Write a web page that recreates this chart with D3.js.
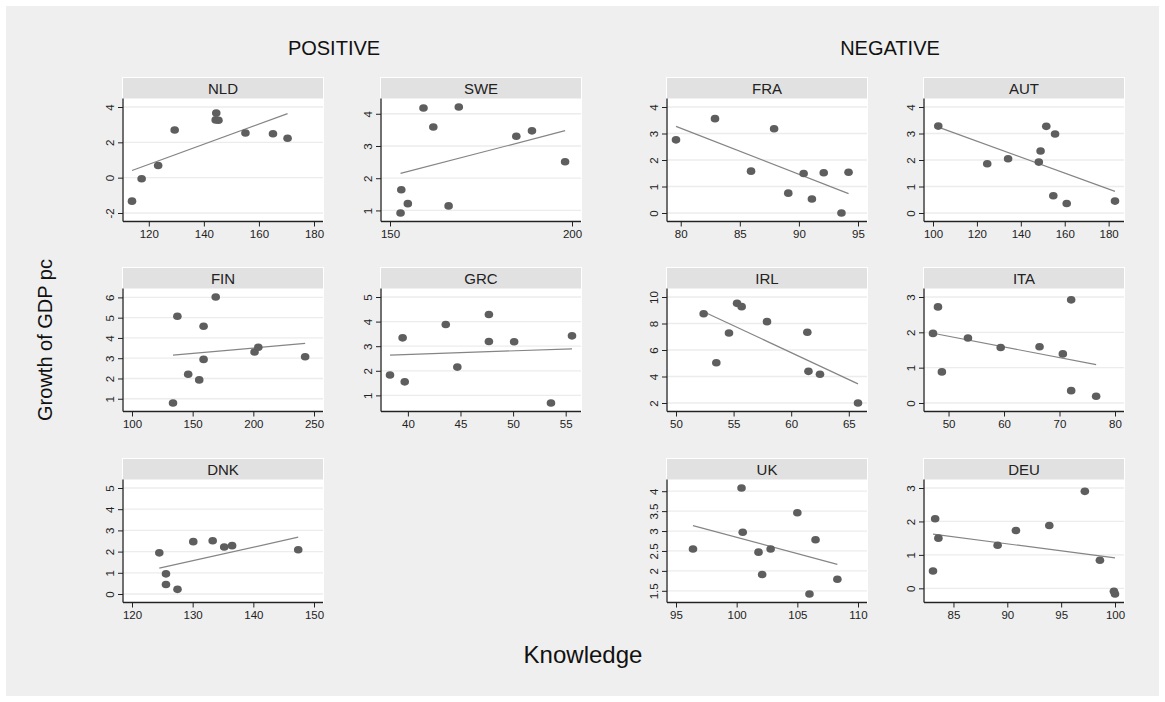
<!DOCTYPE html>
<html>
<head>
<meta charset="utf-8">
<script src="https://cdn.jsdelivr.net/npm/d3@7"></script>
<style>
  body { margin: 0; background: #fff; }
  text { font-family: "Liberation Sans", Arial, sans-serif; }
</style>
</head>
<body>
<div id="chart"></div>
<script>
// data: knowledge (x) and growth of GDP pc (y) per country
var NLD_x = [113.9, 117.4, 123.4, 129.4, 144.5, 144.3, 145.3, 155.1, 165.1, 170.4];
var NLD_y = [-1.33, -0.06, 0.69, 2.70, 3.66, 3.27, 3.25, 2.53, 2.49, 2.23];
var NLD_xt = [120, 140, 160, 180], NLD_yt = [-2, 0, 2, 4];

var SWE_x = [152.9, 153.1, 154.9, 159.2, 161.9, 166.1, 168.9, 184.7, 189.0, 198.1];
var SWE_y = [0.92, 1.64, 1.21, 4.18, 3.59, 1.14, 4.21, 3.30, 3.47, 2.51];
var SWE_xt = [150, 200], SWE_yt = [1, 2, 3, 4];

var FRA_x = [79.6, 82.9, 85.95, 87.9, 89.1, 90.4, 91.1, 92.1, 93.6, 94.2];
var FRA_y = [2.76, 3.56, 1.58, 3.18, 0.75, 1.49, 0.53, 1.52, 0.0, 1.54];
var FRA_xt = [80, 85, 90, 95], FRA_yt = [0, 1, 2, 3, 4];

var AUT_x = [102.4, 124.7, 134.2, 148.2, 149.0, 151.6, 155.6, 154.8, 160.9, 182.9];
var AUT_y = [3.28, 1.86, 2.05, 1.92, 2.34, 3.27, 2.98, 0.65, 0.36, 0.45];
var AUT_xt = [100, 120, 140, 160, 180], AUT_yt = [0, 1, 2, 3, 4];

var FIN_x = [133.8, 137.4, 146.3, 155.4, 159.0, 159.0, 169.0, 201.0, 204.1, 242.7];
var FIN_y = [0.79, 5.07, 2.21, 1.93, 4.58, 2.94, 6.02, 3.31, 3.54, 3.07];
var FIN_xt = [100, 150, 200, 250], FIN_yt = [1, 2, 3, 4, 5, 6];

var GRC_x = [38.3, 39.5, 39.7, 43.6, 44.7, 47.7, 47.7, 50.1, 53.6, 55.6];
var GRC_y = [1.83, 3.34, 1.55, 3.88, 2.15, 4.29, 3.19, 3.18, 0.69, 3.42];
var GRC_xt = [40, 45, 50, 55], GRC_yt = [1, 2, 3, 4, 5];

var IRL_x = [52.4, 53.5, 54.6, 55.3, 55.7, 57.9, 61.4, 61.5, 62.5, 65.8];
var IRL_y = [8.74, 5.04, 7.28, 9.52, 9.27, 8.14, 7.34, 4.39, 4.17, 2.0];
var IRL_xt = [50, 55, 60, 65], IRL_yt = [2, 4, 6, 8, 10];

var ITA_x = [47.2, 48.1, 48.8, 53.5, 59.4, 66.4, 70.6, 72.1, 72.1, 76.6];
var ITA_y = [1.97, 2.72, 0.88, 1.84, 1.57, 1.59, 1.39, 2.92, 0.35, 0.19];
var ITA_xt = [50, 60, 70, 80], ITA_yt = [0, 1, 2, 3];

var DNK_x = [124.5, 125.6, 125.6, 127.5, 130.1, 133.3, 135.2, 136.5, 147.4];
var DNK_y = [1.94, 0.95, 0.45, 0.22, 2.47, 2.51, 2.22, 2.28, 2.09];
var DNK_xt = [120, 130, 140, 150], DNK_yt = [0, 1, 2, 3, 4, 5];

var UK_x = [96.4, 100.4, 100.5, 101.8, 102.1, 102.8, 105.0, 106.5, 106.0, 108.3];
var UK_y = [2.55, 4.08, 2.97, 2.47, 1.91, 2.55, 3.46, 2.78, 1.42, 1.79];
var UK_xt = [95, 100, 105, 110], UK_yt = [1.5, 2, 2.5, 3, 3.5, 4];

var DEU_x = [83.1, 83.3, 83.6, 89.1, 90.8, 93.9, 97.2, 98.6, 99.9, 100.0];
var DEU_y = [0.52, 2.08, 1.50, 1.29, 1.73, 1.88, 2.90, 0.84, -0.09, -0.17];
var DEU_xt = [85, 90, 95, 100], DEU_yt = [0, 1, 2, 3];

var groupTitles = ["POSITIVE", "NEGATIVE"];

// layout
var W = 1165, H = 702;
var colLeft = [123, 381, 667, 924];
var rowTop = [78, 268, 459];
var plotW = 200, headH = 20.5, plotH = 123;
var padX = 9, padY = 8.5;

var panels = [
  {name: "NLD", x: NLD_x, y: NLD_y, xt: NLD_xt, yt: NLD_yt, r: 0, c: 0},
  {name: "SWE", x: SWE_x, y: SWE_y, xt: SWE_xt, yt: SWE_yt, r: 0, c: 1},
  {name: "FRA", x: FRA_x, y: FRA_y, xt: FRA_xt, yt: FRA_yt, r: 0, c: 2},
  {name: "AUT", x: AUT_x, y: AUT_y, xt: AUT_xt, yt: AUT_yt, r: 0, c: 3},
  {name: "FIN", x: FIN_x, y: FIN_y, xt: FIN_xt, yt: FIN_yt, r: 1, c: 0},
  {name: "GRC", x: GRC_x, y: GRC_y, xt: GRC_xt, yt: GRC_yt, r: 1, c: 1},
  {name: "IRL", x: IRL_x, y: IRL_y, xt: IRL_xt, yt: IRL_yt, r: 1, c: 2},
  {name: "ITA", x: ITA_x, y: ITA_y, xt: ITA_xt, yt: ITA_yt, r: 1, c: 3},
  {name: "DNK", x: DNK_x, y: DNK_y, xt: DNK_xt, yt: DNK_yt, r: 2, c: 0},
  {name: "UK",  x: UK_x,  y: UK_y,  xt: UK_xt,  yt: UK_yt,  r: 2, c: 2},
  {name: "DEU", x: DEU_x, y: DEU_y, xt: DEU_xt, yt: DEU_yt, r: 2, c: 3}
];

var svg = d3.select("#chart")
  .append("svg")
    .attr("width", W)
    .attr("height", H);

// outer graph region
svg.append("rect")
  .attr("x", 6).attr("y", 6)
  .attr("width", W - 12).attr("height", H - 12)
  .attr("fill", "#efefef");

// group titles
svg.append("text").attr("x", 334).attr("y", 55)
  .attr("text-anchor", "middle").attr("font-size", 20).attr("fill", "#111")
  .text(groupTitles[0]);
svg.append("text").attr("x", 890).attr("y", 55)
  .attr("text-anchor", "middle").attr("font-size", 20).attr("fill", "#111")
  .text(groupTitles[1]);

// axis titles
svg.append("text")
  .attr("transform", "translate(52,340) rotate(-90)")
  .attr("text-anchor", "middle").attr("font-size", 20).attr("fill", "#111")
  .text("Growth of GDP pc");
svg.append("text").attr("x", 583).attr("y", 663)
  .attr("text-anchor", "middle").attr("font-size", 24).attr("fill", "#111")
  .text("Knowledge");

// plain hyphen for negatives, like the original
var fmt = d => String(d);

panels.forEach(function(p) {
  var left = colLeft[p.c], top = rowTop[p.r];
  var pTop = top + headH, pBot = pTop + plotH, right = left + plotW;

  var g = svg.append("g");

  // strip + plot background
  g.append("rect").attr("x", left - 1).attr("y", top - 1)
    .attr("width", plotW + 2).attr("height", headH + plotH + 2)
    .attr("fill", "#fff");
  g.append("rect").attr("x", left).attr("y", top)
    .attr("width", plotW).attr("height", headH)
    .attr("fill", "#e1e1e1");
  g.append("text").attr("x", left + plotW / 2).attr("y", top + headH / 2 + 5.5)
    .attr("text-anchor", "middle").attr("font-size", 15).attr("fill", "#222")
    .text(p.name);

  var xExt = d3.extent(p.x.concat(p.xt));
  var yExt = d3.extent(p.y.concat(p.yt));

  var x = d3.scaleLinear().domain(xExt).range([left + padX, right - padX]);
  var y = d3.scaleLinear().domain(yExt).range([pBot - padY, pTop + padY]);

  // grid lines
  g.selectAll(".grid").data(p.yt).enter().append("line")
    .attr("class", "grid")
    .attr("x1", left).attr("x2", right)
    .attr("y1", d => y(d)).attr("y2", d => y(d))
    .attr("stroke", "#ececec").attr("stroke-width", 1.3);

  // axes
  var yAxis = d3.axisLeft(y).tickValues(p.yt).tickSize(5).tickPadding(4)
    .tickFormat(fmt);
  var ya = g.append("g").attr("transform", "translate(" + left + ",0)").call(yAxis);
  ya.select(".domain").attr("d", "M0," + pTop + "V" + pBot);
  ya.selectAll("text")
    .attr("transform", "translate(-13,0) rotate(-90)")
    .attr("x", 0).attr("y", 0).attr("dy", "0.35em")
    .attr("text-anchor", "middle");

  var xAxis = d3.axisBottom(x).tickValues(p.xt).tickSize(5).tickPadding(3)
    .tickFormat(fmt);
  var xa = g.append("g").attr("transform", "translate(0," + pBot + ")").call(xAxis);
  xa.select(".domain").attr("d", "M" + left + ",0H" + right);

  [ya, xa].forEach(function(a) {
    a.selectAll("text").attr("font-size", 11.5).attr("fill", "#222")
      .style("font-family", "Liberation Sans, Arial, sans-serif");
    a.selectAll("line").attr("stroke", "#222");
    a.select(".domain").attr("stroke", "#222").attr("stroke-width", 1.3);
  });

  // linear fit
  var mx = d3.mean(p.x), my = d3.mean(p.y);
  var sxy = d3.sum(p.x, (v, i) => (v - mx) * (p.y[i] - my));
  var sxx = d3.sum(p.x, v => (v - mx) * (v - mx));
  var b = sxy / sxx, a0 = my - b * mx;
  var xr = d3.extent(p.x);
  g.append("line")
    .attr("x1", x(xr[0])).attr("y1", y(a0 + b * xr[0]))
    .attr("x2", x(xr[1])).attr("y2", y(a0 + b * xr[1]))
    .attr("stroke", "#858585").attr("stroke-width", 1.2);

  // points
  g.selectAll(".pt").data(p.x).enter().append("ellipse")
    .attr("class", "pt")
    .attr("cx", d => x(d))
    .attr("cy", (d, i) => y(p.y[i]))
    .attr("rx", 4.3).attr("ry", 3.8)
    .attr("fill", "#5e5e5e");
});
</script>
</body>
</html>
